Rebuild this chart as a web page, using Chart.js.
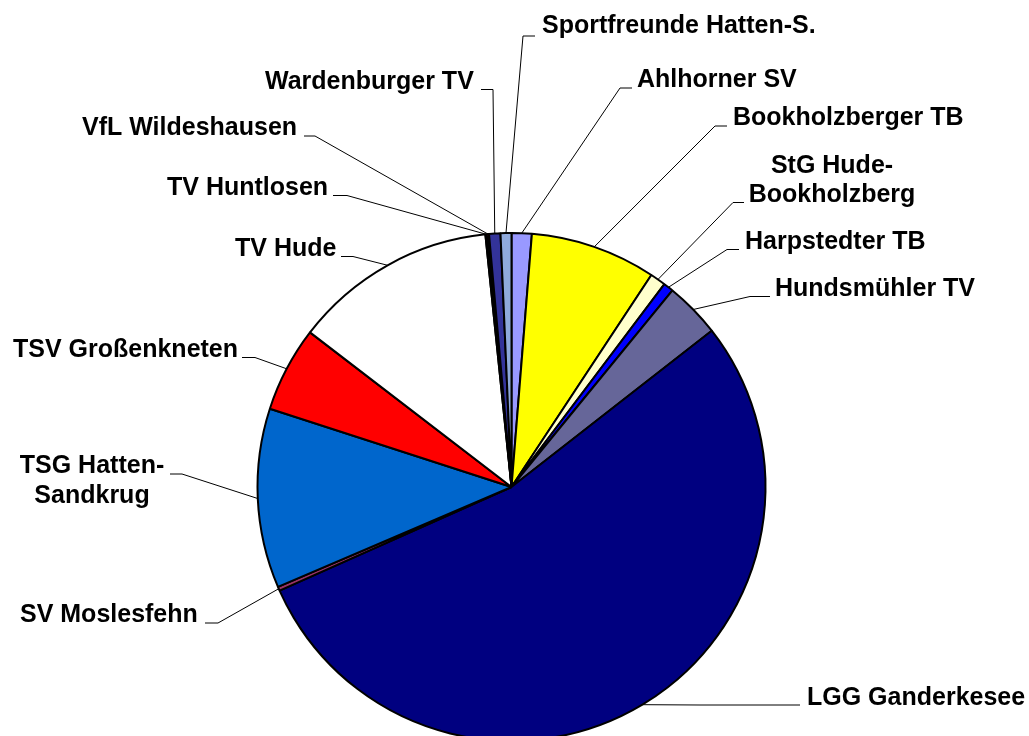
<!DOCTYPE html>
<html>
<head>
<meta charset="utf-8">
<script src="https://cdn.jsdelivr.net/npm/chart.js@4/dist/chart.umd.min.js"></script>
<style>
  html, body { margin: 0; padding: 0; background: #ffffff; overflow: hidden; }
  #wrap { position: relative; width: 1029px; height: 736px; overflow: hidden; }
  canvas { display: block; }
</style>
</head>
<body>
<div id="wrap"><canvas id="c" width="1029" height="760"></canvas></div>
<script>
// ---- data ----
const categories = [
  'Ahlhorner SV', 'Bookholzberger TB', 'StG Hude-Bookholzberg', 'Harpstedter TB',
  'Hundsmühler TV', 'LGG Ganderkesee', 'SV Moslesfehn', 'TSG Hatten-Sandkrug',
  'TSV Großenkneten', 'TV Hude', 'TV Huntlosen', 'VfL Wildeshausen',
  'Wardenburger TV', 'Sportfreunde Hatten-S.'
];
const shares = [1.28, 8.0, 1.0, 0.64, 3.53, 53.86, 0.25, 11.42, 5.43, 12.94, 0.10, 0.13, 0.72, 0.69];
const labelLines = [
  ['Ahlhorner SV'], ['Bookholzberger TB'], ['StG Hude-', 'Bookholzberg'], ['Harpstedter TB'],
  ['Hundsmühler TV'], ['LGG Ganderkesee'], ['SV Moslesfehn'], ['TSG Hatten-', 'Sandkrug'],
  ['TSV Großenkneten'], ['TV Hude'], ['TV Huntlosen'], ['VfL Wildeshausen'],
  ['Wardenburger TV'], ['Sportfreunde Hatten-S.']
];

// ---- styles ----
const sliceColors = [
  '#9999FF', '#FFFF00', '#FFFFCC', '#0000FF', '#666699', '#000080', '#993366', '#0066CC',
  '#FF0000', '#FFFFFF', '#800000', '#FF0000', '#333399', '#8FAADC'
];

// label layout: text anchor (tx, baseline ty, align, lineHeight), leader: horizontal from sx to ex at sy, then ex -> slice edge
const labelLayout = [
  { tx: 637, ty: 87,  align: 'left',   sx: 632, ex: 620, sy: 88 },
  { tx: 733, ty: 125, align: 'left',   sx: 727, ex: 715, sy: 126 },
  { tx: 832, ty: 173, align: 'center', sx: 744, ex: 733, sy: 202.5, lh: 28.5 },
  { tx: 745, ty: 249, align: 'left',   sx: 739, ex: 727, sy: 249.5 },
  { tx: 775, ty: 296, align: 'left',   sx: 770, ex: 750, sy: 296.5 },
  { tx: 807, ty: 705, align: 'left',   sx: 800, ex: 700, sy: 705 },
  { tx: 20,  ty: 622, align: 'left',   sx: 205, ex: 218, sy: 623 },
  { tx: 92,  ty: 473, align: 'center', sx: 170, ex: 182, sy: 474, lh: 29.5 },
  { tx: 13,  ty: 357, align: 'left',   sx: 242, ex: 255, sy: 357.5 },
  { tx: 235, ty: 256, align: 'left',   sx: 341, ex: 353, sy: 256.5 },
  { tx: 167, ty: 195, align: 'left',   sx: 333, ex: 347, sy: 195.5 },
  { tx: 82,  ty: 135, align: 'left',   sx: 304, ex: 315, sy: 136 },
  { tx: 265, ty: 89,  align: 'left',   sx: 481, ex: 493, sy: 89.5 },
  { tx: 542, ty: 33,  align: 'left',   sx: 535, ex: 523, sy: 36 }
];

const labelPlugin = {
  id: 'leaderLabels',
  afterDatasetsDraw(chart) {
    const ctx = chart.ctx;
    const meta = chart.getDatasetMeta(0);
    ctx.save();
    meta.data.forEach((arc, i) => {
      const L = labelLayout[i];
      const p = arc.getProps(['x', 'y', 'startAngle', 'endAngle', 'outerRadius'], true);
      const mid = (p.startAngle + p.endAngle) / 2;
      const px = p.x + Math.cos(mid) * p.outerRadius;
      const py = p.y + Math.sin(mid) * p.outerRadius;
      ctx.strokeStyle = '#000';
      ctx.lineWidth = 1;
      ctx.beginPath();
      ctx.moveTo(L.sx, L.sy);
      ctx.lineTo(L.ex, L.sy);
      ctx.lineTo(px, py);
      ctx.stroke();
      ctx.fillStyle = '#000';
      ctx.font = 'bold 25px "Liberation Sans", Arial, sans-serif';
      ctx.textAlign = L.align;
      ctx.textBaseline = 'alphabetic';
      labelLines[i].forEach((t, k) => {
        ctx.fillText(t, L.tx, L.ty + k * (L.lh || 28));
      });
    });
    ctx.restore();
  }
};

new Chart(document.getElementById('c'), {
  type: 'pie',
  data: {
    labels: categories,
    datasets: [{
      data: shares,
      backgroundColor: sliceColors,
      borderColor: '#000000',
      borderWidth: 2,
      radius: 254
    }]
  },
  options: {
    responsive: false,
    animation: false,
    devicePixelRatio: 1,
    layout: { padding: { left: 240, right: 246, top: 220, bottom: 6 } },
    plugins: {
      legend: { display: false },
      tooltip: { enabled: false }
    }
  },
  plugins: [labelPlugin]
});
</script>
</body>
</html>
